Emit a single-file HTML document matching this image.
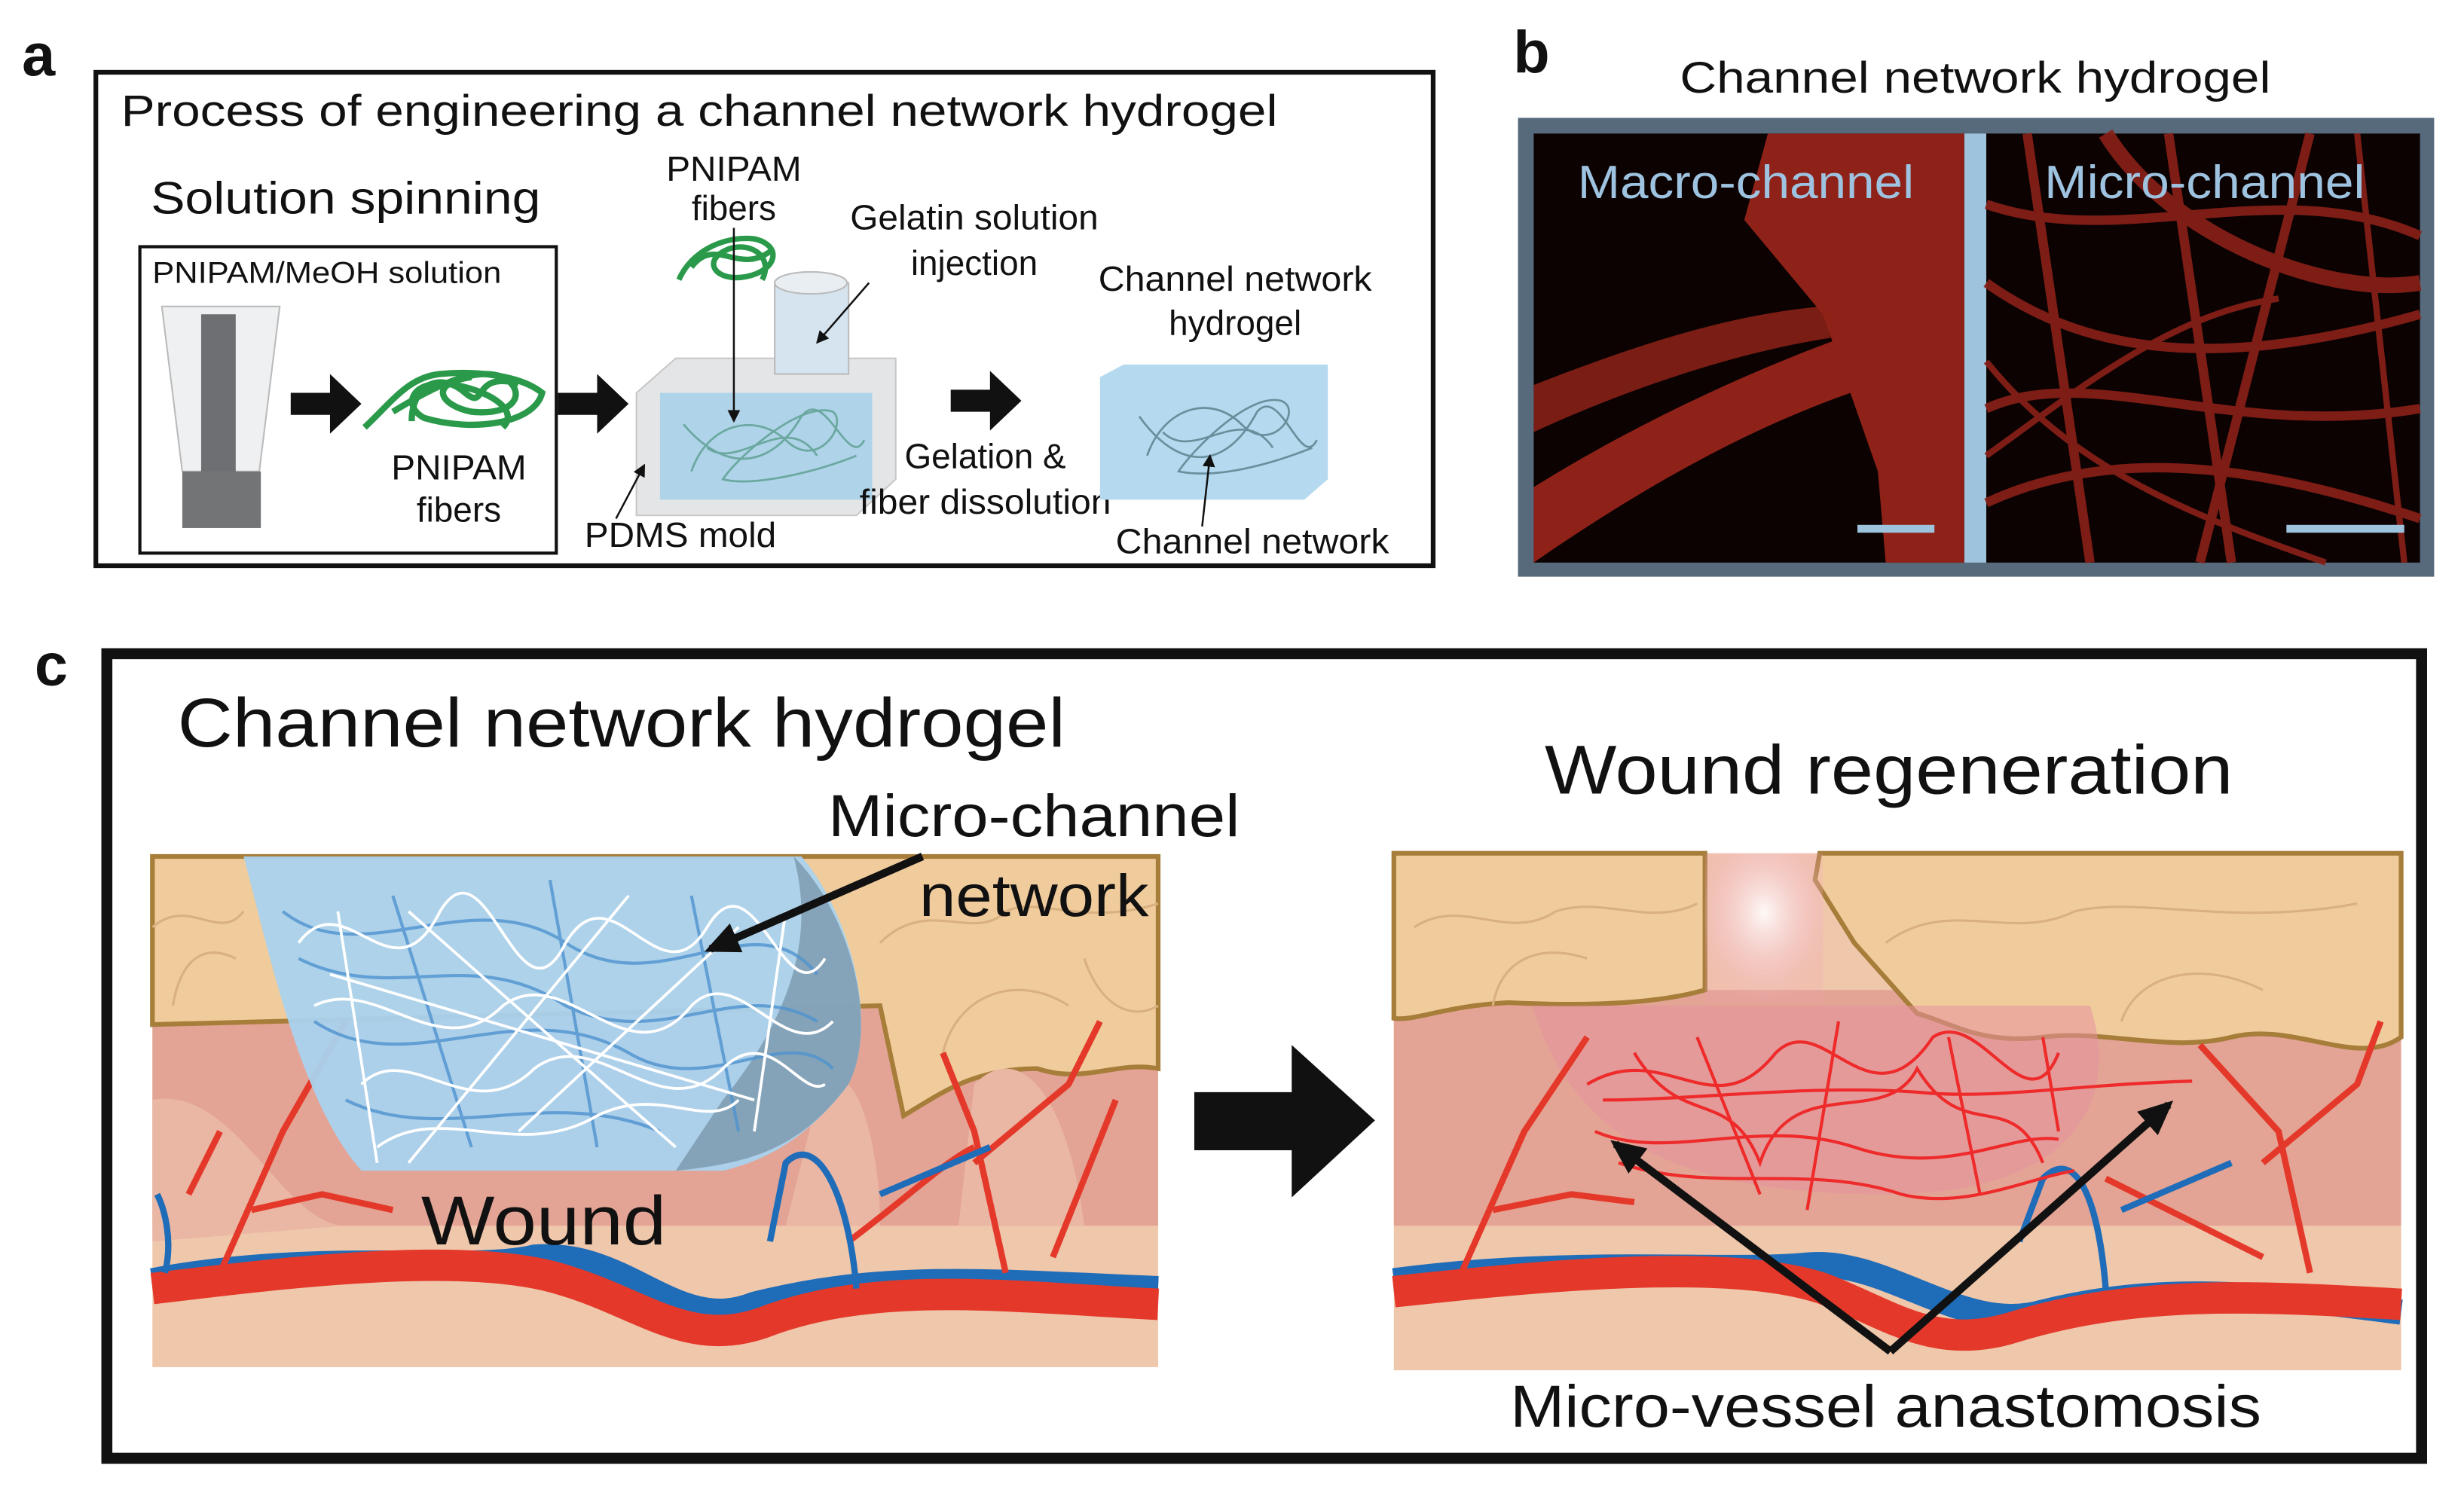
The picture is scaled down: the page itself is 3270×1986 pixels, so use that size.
<!DOCTYPE html>
<html><head><meta charset="utf-8"><style>
html,body{margin:0;padding:0;background:#fff}
svg{display:block}
text{font-family:"Liberation Sans",Arial,sans-serif;fill:#111}
</style></head><body>
<svg width="3270" height="1986" viewBox="0 0 1568 952" preserveAspectRatio="none" xmlns="http://www.w3.org/2000/svg">
<defs>
<marker id="ah" markerWidth="8" markerHeight="8" refX="7" refY="4" orient="auto" markerUnits="userSpaceOnUse"><path d="M0,0 L8,4 L0,8 z" fill="#111"/></marker>
<marker id="bh" markerWidth="22" markerHeight="20" refX="18" refY="10" orient="auto" markerUnits="userSpaceOnUse"><path d="M0,0 L22,10 L0,20 z" fill="#111"/></marker>
<radialGradient id="glow" cx="0.5" cy="0.4" r="0.6"><stop offset="0" stop-color="#fff" stop-opacity="0.9"/><stop offset="1" stop-color="#f2a0b8" stop-opacity="0.2"/></radialGradient>
</defs>

<!-- panel a -->
<text x="14" y="48" font-size="38" font-weight="bold">a</text>
<rect x="61" y="46" width="851" height="314" fill="none" stroke="#111" stroke-width="3"/>
<text x="77" y="80" font-size="28" textLength="736" lengthAdjust="spacingAndGlyphs">Process of engineering a channel network hydrogel</text>
<text x="96" y="136" font-size="29" textLength="248" lengthAdjust="spacingAndGlyphs">Solution spinning</text>
<rect x="89" y="157" width="265" height="195" fill="none" stroke="#111" stroke-width="2"/>
<text x="97" y="180" font-size="19" textLength="222" lengthAdjust="spacingAndGlyphs">PNIPAM/MeOH solution</text>
<path d="M103,195 L178,195 L165,300 L116,300 z" fill="#eef0f2" stroke="#bbb"/>
<rect x="128" y="200" width="22" height="110" fill="#6d6f72"/>
<rect x="116" y="300" width="50" height="36" fill="#727476"/>
<path d="M185,250 h25 v-12 l20,19 l-20,19 v-12 h-25z" fill="#111"/>
<path d="M355,250 h25 v-12 l20,19 l-20,19 v-12 h-25z" fill="#111"/>
<path d="M605,248 h25 v-12 l20,19 l-20,19 v-12 h-25z" fill="#111"/>
<g fill="none" stroke="#2a9a4a" stroke-width="4">
<path d="M232,272 C250,255 260,240 280,238 C300,236 330,238 345,250 C340,270 300,275 270,266 C255,258 262,240 290,245 C315,250 330,262 320,272"/>
<path d="M250,262 C270,250 300,232 320,240 C335,248 330,265 300,262 C280,258 272,244 300,240"/>
<path d="M262,268 C262,245 280,236 296,250 C310,262 300,236 330,244"/>
</g>
<text x="292" y="305" font-size="22" text-anchor="middle" textLength="86" lengthAdjust="spacingAndGlyphs">PNIPAM</text>
<text x="292" y="332" font-size="22" text-anchor="middle">fibers</text>
<text x="467" y="115" font-size="22" text-anchor="middle" textLength="86" lengthAdjust="spacingAndGlyphs">PNIPAM</text>
<text x="467" y="140" font-size="22" text-anchor="middle">fibers</text>
<g fill="none" stroke="#2a9a4a" stroke-width="3.5">
<path d="M432,178 C440,160 460,150 480,152 C498,156 495,172 475,176 C455,180 445,165 465,158 C480,154 492,165 485,178"/>
<path d="M440,170 C455,150 470,175 490,160"/>
</g>
<path d="M405,250 L430,228 L570,228 L570,305 L545,328 L405,328 z" fill="#e4e5e7" stroke="#c8c8c8"/>
<rect x="420" y="250" width="135" height="68" fill="#a9d0e8" opacity="0.9"/>
<g fill="none" stroke="#6aa8a0" stroke-width="1.3">
<path d="M440,300 C450,270 480,262 500,280 C520,300 540,270 530,262 C510,255 470,290 460,305 C480,310 520,300 545,290"/>
<path d="M450,285 C470,300 500,260 520,290"/>
<path d="M435,270 C460,300 490,300 510,265 C525,245 540,300 550,280"/>
</g>
<rect x="493" y="180" width="47" height="58" fill="#d5e4ee" stroke="#bbb"/>
<ellipse cx="516" cy="180" rx="23" ry="7" fill="#e8eef2" stroke="#bbb"/>
<line x1="467" y1="145" x2="467" y2="268" stroke="#111" stroke-width="1.2" marker-end="url(#ah)"/>
<line x1="553" y1="180" x2="520" y2="218" stroke="#111" stroke-width="1.2" marker-end="url(#ah)"/>
<line x1="392" y1="330" x2="410" y2="296" stroke="#111" stroke-width="1.2" marker-end="url(#ah)"/>
<text x="620" y="146" font-size="22" text-anchor="middle" textLength="158" lengthAdjust="spacingAndGlyphs">Gelatin solution</text>
<text x="620" y="175" font-size="22" text-anchor="middle">injection</text>
<text x="372" y="348" font-size="22" textLength="122" lengthAdjust="spacingAndGlyphs">PDMS mold</text>
<text x="627" y="298" font-size="22" text-anchor="middle">Gelation &amp;</text>
<text x="627" y="327" font-size="22" text-anchor="middle" textLength="160" lengthAdjust="spacingAndGlyphs">fiber dissolution</text>
<text x="786" y="185" font-size="22" text-anchor="middle" textLength="174" lengthAdjust="spacingAndGlyphs">Channel network</text>
<text x="786" y="213" font-size="22" text-anchor="middle">hydrogel</text>
<path d="M700,240 L715,232 L845,232 L845,305 L830,318 L700,318z" fill="#b5daf0"/>
<g fill="none" stroke="#6a8f9c" stroke-width="1.3">
<path d="M730,290 C740,260 770,250 790,270 C810,290 830,260 815,255 C795,250 760,285 750,300 C775,305 810,295 835,285"/>
<path d="M740,275 C760,295 790,255 810,285"/>
<path d="M725,265 C750,300 780,300 800,262 C815,245 828,300 838,280"/>
</g>
<line x1="765" y1="335" x2="770" y2="290" stroke="#111" stroke-width="1.2" marker-end="url(#ah)"/>
<text x="710" y="352" font-size="22" textLength="174" lengthAdjust="spacingAndGlyphs">Channel network</text>

<!-- panel b -->
<text x="963" y="46" font-size="38" font-weight="bold">b</text>
<text x="1257" y="59" font-size="28" text-anchor="middle" textLength="376" lengthAdjust="spacingAndGlyphs">Channel network hydrogel</text>
<rect x="966" y="75" width="583" height="292" fill="#566a7c"/>
<rect x="976" y="85" width="274" height="273" fill="#0c0202"/>
<rect x="1264" y="85" width="276" height="273" fill="#0c0202"/>
<rect x="1250" y="85" width="14" height="273" fill="#9ec3dc"/>
<g fill="#8e2218">
<path d="M1145,85 L1250,85 L1250,358 L1200,358 L1195,300 L1160,200 L1110,140 L1125,85z"/>
<path d="M976,310 C1040,270 1140,220 1250,190 L1250,230 C1150,250 1060,300 976,358z"/>
<path d="M976,245 C1040,220 1100,200 1160,195 L1165,215 C1100,225 1030,250 976,275z" opacity="0.85"/>
</g>
<g stroke="#8a2018" fill="none" stroke-width="6" opacity="0.9">
<path d="M1264,180 C1320,220 1400,240 1540,200"/>
<path d="M1264,260 C1330,230 1420,280 1540,260"/>
<path d="M1290,85 L1330,358"/><path d="M1380,85 L1420,358"/>
<path d="M1264,320 C1350,280 1450,300 1540,330"/>
<path d="M1470,85 L1400,358"/><path d="M1264,130 C1350,160 1450,110 1540,150"/>
<path d="M1500,85 L1530,358" stroke-width="4"/>
<path d="M1264,230 C1320,300 1400,330 1480,358" stroke-width="4"/>
<path d="M1340,85 C1380,150 1480,190 1540,180" stroke-width="10"/>
<path d="M1264,290 C1320,250 1380,200 1450,190" stroke-width="4"/>
</g>
<rect x="1182" y="334" width="49" height="5" fill="#9ec3dc"/>
<rect x="1455" y="334" width="75" height="5" fill="#9ec3dc"/>
<text x="1111" y="126" font-size="30" text-anchor="middle" style="fill:#9ec3e0" textLength="214" lengthAdjust="spacingAndGlyphs">Macro-channel</text>
<text x="1403" y="126" font-size="30" text-anchor="middle" style="fill:#9ec3e0" textLength="204" lengthAdjust="spacingAndGlyphs">Micro-channel</text>

<!-- panel c -->
<text x="22" y="436" font-size="38" font-weight="bold">c</text>
<rect x="68" y="416" width="1473" height="512" fill="none" stroke="#111" stroke-width="7"/>
<text x="113" y="475" font-size="44" textLength="565" lengthAdjust="spacingAndGlyphs">Channel network hydrogel</text>
<text x="1202" y="505" font-size="44" text-anchor="middle" textLength="438" lengthAdjust="spacingAndGlyphs">Wound regeneration</text>

<!-- left skin -->
<g>
<rect x="97" y="545" width="640" height="325" fill="#efc7ab"/>
<rect x="97" y="640" width="640" height="140" fill="#e3a495"/>
<path d="M97,545 H737 V680 C710,675 690,690 660,680 C620,680 600,695 575,710 L560,640 L97,652 z" fill="#f0cc9c" stroke="#a77d3a" stroke-width="3"/>
<g fill="none" stroke="#d9b080" stroke-width="1.5">
<path d="M97,590 C120,570 140,600 155,580"/><path d="M110,640 C115,610 130,600 150,610"/>
<path d="M560,600 C590,570 620,600 640,580 C660,570 690,590 737,575"/><path d="M600,670 C610,630 650,620 680,640"/><path d="M690,610 C700,640 720,650 737,640"/>
</g>
<path d="M97,700 C150,690 180,780 220,780 L97,790z" fill="#eab7a5"/>
<path d="M520,700 C540,660 560,720 560,780 L500,780z" fill="#eab7a5"/>
<path d="M620,690 C650,660 680,700 690,780 L610,780z" fill="#eab7a5"/>
<path d="M97,815 C200,795 300,810 340,800 C400,795 430,850 480,830 C560,810 620,815 737,820" stroke="#1f6cb8" stroke-width="16" fill="none"/>
<path d="M97,820 C180,810 300,795 360,815 C410,830 440,860 490,840 C560,815 640,825 737,830" stroke="#e4392a" stroke-width="20" fill="none"/>
<g stroke="#e4392a" stroke-width="4" fill="none">
<path d="M140,810 L180,720 L220,650"/><path d="M160,770 L205,760 L250,770"/><path d="M120,760 L140,720"/>
<path d="M640,810 L620,720 L600,670"/><path d="M620,740 L680,690 L700,650"/><path d="M670,800 L710,700"/>
<path d="M540,790 C580,760 600,740 620,730"/>
</g>
<g stroke="#1f6cb8" stroke-width="4" fill="none">
<path d="M545,820 C540,760 520,720 500,740 L490,790"/><path d="M560,760 L630,730"/>
<path d="M105,810 C110,790 105,770 100,760"/>
</g>
<path d="M155,545 H510 C540,580 560,650 540,690 C510,730 480,740 460,745 L230,745 C190,700 170,600 155,545z" fill="#a9d2ee" opacity="0.95"/>
<path d="M505,545 C540,580 560,650 540,690 C510,730 480,740 430,745 L460,700 C500,650 520,600 505,545z" fill="#7a97ad" opacity="0.8"/>
<g fill="none" stroke="#4f93cf" stroke-width="2" opacity="0.8">
<path d="M180,580 C230,620 300,560 360,600 C420,640 480,570 520,620"/><path d="M200,650 C260,690 330,630 400,670 C450,700 500,650 530,680"/>
<path d="M220,700 C280,730 350,690 420,720"/><path d="M250,570 L300,730"/><path d="M350,560 L380,730"/><path d="M440,570 L470,720"/>
<path d="M190,610 C250,640 300,600 360,640 C420,670 470,620 520,650"/>
</g>
<g fill="none" stroke="#fff" stroke-width="1.8">
<path d="M190,600 C220,560 250,640 280,580 C310,530 330,660 360,600 C390,550 420,640 450,590 C480,540 500,650 525,610"/>
<path d="M200,640 C240,620 280,680 320,640 C360,610 400,690 440,640 C470,610 500,680 530,650"/>
<path d="M230,690 C260,660 300,720 340,680 C380,650 420,720 460,680 C490,650 510,700 525,690"/>
<path d="M210,620 L480,700"/><path d="M260,580 L430,730"/><path d="M400,570 L260,740"/><path d="M470,590 L330,720"/>
<path d="M240,730 C280,700 330,740 380,710 C420,690 450,720 470,700"/>
<path d="M215,580 L240,740"/><path d="M500,580 L480,720"/>
</g>
<line x1="587" y1="545" x2="452" y2="604" stroke="#111" stroke-width="5" marker-end="url(#bh)"/>
</g>
<text x="527" y="532" font-size="38" textLength="262" lengthAdjust="spacingAndGlyphs">Micro-channel</text>
<text x="585" y="583" font-size="38" textLength="146" lengthAdjust="spacingAndGlyphs">network</text>
<text x="268" y="792" font-size="44" textLength="156" lengthAdjust="spacingAndGlyphs">Wound</text>

<path d="M760,695 H822 V665 L875,713 L822,762 V732 H760z" fill="#111"/>

<!-- right skin -->
<g>
<rect x="887" y="543" width="641" height="329" fill="#efc7ab"/>
<rect x="887" y="630" width="641" height="150" fill="#e3a495"/>
<path d="M887,543 H1085 V630 C1050,640 1000,640 960,638 C920,640 900,650 887,648z" fill="#f0cc9c" stroke="#a77d3a" stroke-width="3"/>
<path d="M1158,543 H1528 V660 C1500,680 1460,650 1420,660 C1380,670 1340,655 1300,660 C1260,665 1240,650 1220,645 L1180,600 L1155,560z" fill="#f0cc9c" stroke="#a77d3a" stroke-width="3"/>
<g fill="none" stroke="#d9b080" stroke-width="1.5">
<path d="M900,590 C930,570 960,600 990,580 C1020,570 1050,590 1080,575"/><path d="M950,640 C955,610 980,600 1010,610"/>
<path d="M1200,600 C1240,570 1280,600 1320,580 C1360,570 1420,590 1500,575"/><path d="M1350,650 C1360,620 1400,610 1440,630"/>
</g>
<rect x="1085" y="543" width="75" height="95" fill="url(#glow)"/>
<path d="M975,640 L1330,640 C1350,700 1320,760 1200,760 C1060,760 1000,720 975,640z" fill="#e8919e" opacity="0.55"/>
<path d="M887,815 C1000,800 1100,810 1150,805 C1200,800 1250,850 1300,835 C1380,815 1450,825 1528,835" stroke="#1f6cb8" stroke-width="16" fill="none"/>
<path d="M887,822 C980,812 1100,800 1160,820 C1200,835 1230,860 1280,845 C1360,820 1440,825 1528,830" stroke="#e4392a" stroke-width="20" fill="none"/>
<g stroke="#e4392a" stroke-width="4" fill="none">
<path d="M930,810 L970,720 L1010,660"/><path d="M950,770 L1000,760 L1040,765"/>
<path d="M1470,810 L1450,720 L1400,665"/><path d="M1440,740 L1500,690 L1515,650"/>
<path d="M1340,750 C1380,770 1420,790 1440,800"/>
</g>
<g stroke="#1f6cb8" stroke-width="4" fill="none">
<path d="M1340,820 C1335,760 1320,730 1300,750 L1285,790"/><path d="M1350,770 L1420,740"/>
</g>
<g fill="none" stroke="#ee2a2a" stroke-width="2">
<path d="M1010,690 C1060,660 1090,720 1130,670 C1160,640 1190,720 1230,660 C1260,640 1290,720 1310,670"/>
<path d="M1020,700 C1080,700 1150,690 1220,695 C1270,700 1320,690 1395,688"/>
<path d="M1015,720 C1060,740 1120,710 1180,730 C1240,750 1280,720 1310,725"/>
<path d="M1030,740 C1090,760 1150,740 1210,760 C1250,770 1290,750 1320,745"/>
<path d="M1080,660 L1120,760"/><path d="M1170,650 L1150,770"/><path d="M1240,660 L1260,760"/><path d="M1300,660 L1310,720"/>
<path d="M1040,670 C1070,720 1100,690 1120,740 C1140,680 1200,720 1220,680 C1250,730 1280,690 1300,740"/>
</g>
<g stroke="#111" stroke-width="5" fill="none">
<line x1="1203" y1="860" x2="1028" y2="728" marker-end="url(#bh)"/>
<line x1="1203" y1="860" x2="1380" y2="703" marker-end="url(#bh)"/>
</g>
</g>
<text x="1200" y="908" font-size="38" text-anchor="middle" textLength="478" lengthAdjust="spacingAndGlyphs">Micro-vessel anastomosis</text>
</svg>
</body></html>
